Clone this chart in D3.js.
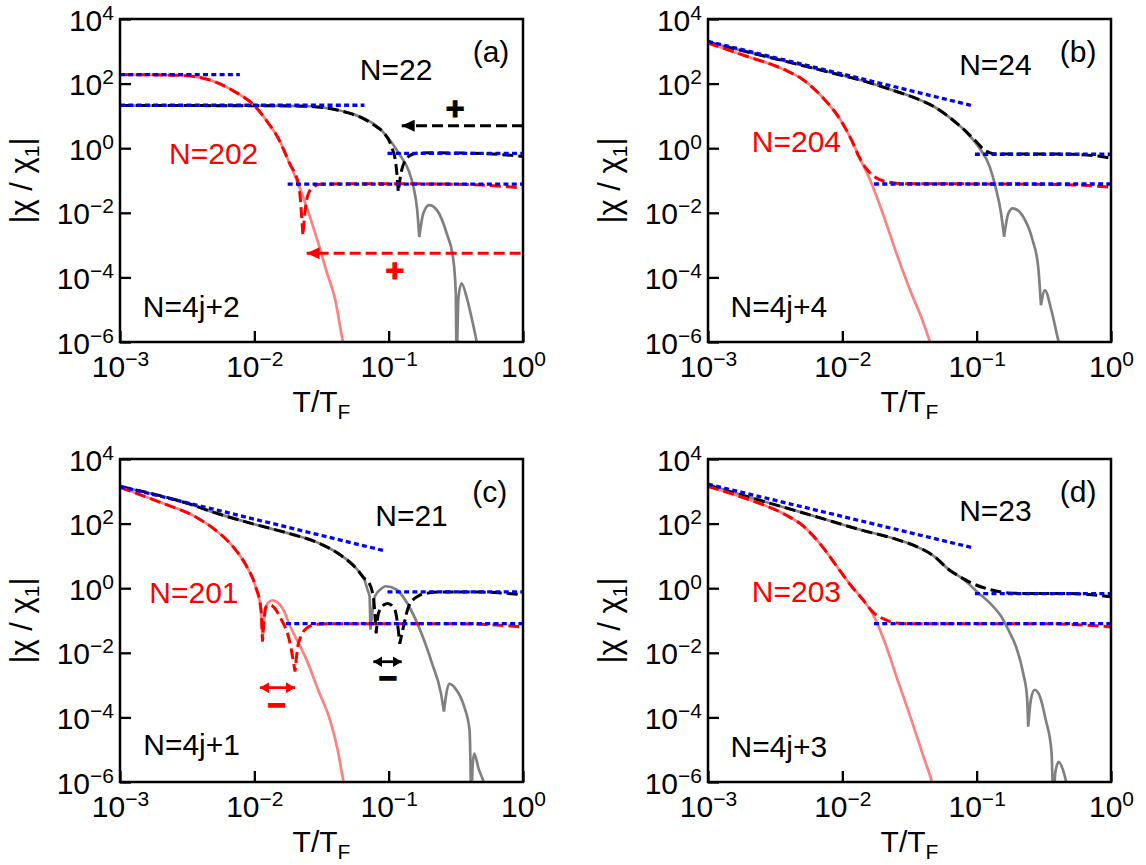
<html>
<head>
<meta charset="utf-8">
<title>chi / chi1 vs T/TF</title>
<style>
  body { margin: 0; background: #fff; }
  svg { display: block; }
  text { font-family: "Liberation Sans", Arial, Helvetica, sans-serif; }
  .frame { fill: none; stroke: #000; stroke-width: 2.5px; }
  .tick line { stroke: #000; stroke-width: 2.3px; }
  .exact { fill: none; stroke: #808080; stroke-width: 2.7px; }
  .exact.big { stroke: #ff8080; }
  .approx { fill: none; stroke: #000; stroke-width: 3px; stroke-dasharray: 11,5; }
  .approx.big { stroke: #ff0000; }
  .asym { fill: none; stroke: #0000ff; stroke-width: 3.3px; stroke-dasharray: 5,3.3; }
</style>
</head>
<body>
<div id="fig"></div>
<script src="https://d3js.org/d3.v7.min.js"></script>
<script>

// axis ticks (log scales)
var xTicks = [1e-3, 1e-2, 1e-1, 1];
var yTicks = [1e-6, 1e-4, 1e-2, 1, 1e2, 1e4];

// [T/TF, |chi/chi1|, cusp flag]
// panel (a)  N = 4j+2
var grayA  = [[0.001,20.9],[0.003,20.9],[0.01,20.7],[0.025,19.9],[0.0398,15.8],[0.0501,12.6],[0.0631,8.91],[0.0794,5.25],[0.1,2.0],[0.12,0.661],[0.141,0.2],[0.153,0.063],[0.163,0.0126],[0.169,0.00178,1],[0.181,0.00955],[0.2,0.0174],[0.228,0.0123],[0.27,0.00234],[0.303,0.000347],[0.316,3.16e-5],[0.321,1e-7,1],[0.331,2.5e-5],[0.349,6.6e-5],[0.38,2.5e-5],[0.417,5e-6],[0.452,1e-6],[0.48,2e-7]];
var blackA = [[0.001,20.9],[0.01,20.7],[0.025,19.9],[0.0398,15.8],[0.0501,12.4],[0.0631,8.7],[0.0794,4.9],[0.0912,3.1],[0.105,1.11],[0.113,0.339],[0.118,0.0447,1],[0.125,0.211],[0.14,0.546],[0.161,0.70],[0.203,0.72],[0.316,0.71],[0.5,0.68],[0.708,0.63],[1,0.55]];
var pinkA  = [[0.001,190],[0.002,186],[0.00316,174],[0.00501,117],[0.00708,57.5],[0.01,20.9],[0.0126,6.31],[0.0151,2.0],[0.0182,0.355],[0.0214,0.0708],[0.0251,0.0112],[0.0295,0.00141],[0.0347,0.000141],[0.0398,2.24e-5],[0.0457,1e-6],[0.0501,2e-7]];
var redA   = [[0.001,190],[0.002,186],[0.00316,174],[0.00501,117],[0.00708,57.5],[0.01,20.9],[0.0126,6.31],[0.0151,2.0],[0.0182,0.355],[0.0214,0.0708],[0.023,0.002,1],[0.0245,0.0251],[0.0267,0.0575],[0.0309,0.0759],[0.0501,0.0794],[0.1,0.0794],[0.251,0.0776],[0.5,0.0724],[0.708,0.066],[1,0.0589]];
var asymA  = [[[0.001,190],[0.0078,190]],[[0.001,21.4],[0.066,21.4]],[[0.098,0.69],[1,0.69]],[[0.0177,0.0776],[1,0.0776]]];

// panel (b)  N = 4j+4
var grayB  = [[0.001,1890],[0.00316,589],[0.01,178],[0.0133,132],[0.0253,57],[0.0355,34.7],[0.048,19.5],[0.0661,7.53],[0.0853,2.9],[0.103,1.12],[0.125,0.269],[0.138,0.0646],[0.152,0.00955],[0.16,0.00182,1],[0.172,0.00955],[0.186,0.0138],[0.222,0.00759],[0.261,0.00141],[0.287,0.000214],[0.301,1.38e-5,1],[0.322,3.98e-5],[0.36,9.55e-6],[0.408,1e-6],[0.447,2.5e-7]];
var blackB = [[0.001,1890],[0.00316,589],[0.01,178],[0.0133,132],[0.0253,57],[0.0355,34.7],[0.048,19.5],[0.0661,7.6],[0.0853,3.0],[0.1,1.55],[0.112,0.93],[0.126,0.72],[0.142,0.66],[0.2,0.66],[0.4,0.66],[0.6,0.63],[0.8,0.57],[1,0.49]];
var pinkB  = [[0.001,1800],[0.00196,692],[0.00371,269],[0.0051,132],[0.00703,39.8],[0.00968,7.53],[0.0117,1.8],[0.0133,0.55],[0.0161,0.104],[0.0196,0.0122],[0.0253,0.00055],[0.0327,3.16e-5],[0.0395,4.68e-6],[0.045,1e-6],[0.0501,3.2e-7]];
var redB   = [[0.001,1800],[0.00196,692],[0.00371,269],[0.0051,132],[0.00703,39.8],[0.00968,7.53],[0.0117,1.8],[0.0133,0.55],[0.015,0.24],[0.0168,0.145],[0.019,0.107],[0.022,0.089],[0.026,0.081],[0.03,0.079],[0.1,0.0785],[0.316,0.0759],[0.631,0.0708],[1,0.0617]];
var asymB  = [[[0.001,2030],[0.0938,20.5]],[[0.097,0.649],[1,0.649]],[[0.0172,0.0778],[1,0.0778]]];

// panel (c)  N = 4j+1
var grayC  = [[0.001,1413],[0.00316,427],[0.00506,219],[0.01,95.5],[0.0172,52.5],[0.0316,22.9],[0.043,11.2],[0.0583,3.8],[0.0659,1.86],[0.07,0.83],[0.0721,0.562],[0.0731,0.0525,1],[0.0791,0.562],[0.0867,0.912],[0.0951,1.15],[0.114,0.912],[0.146,0.219],[0.175,0.0407],[0.21,0.00479],[0.245,0.000562],[0.258,0.000151,1],[0.269,0.000562],[0.282,0.0011],[0.313,0.000794],[0.365,0.000214],[0.4,4.07e-5],[0.412,1e-7,1],[0.422,3.2e-6],[0.433,7.6e-6],[0.468,2.5e-6],[0.51,1e-6],[0.55,3.2e-7]];
var blackC = [[0.001,1413],[0.00316,427],[0.00506,219],[0.01,95.5],[0.0172,52.5],[0.0316,22.9],[0.043,11.2],[0.0583,3.8],[0.0659,2.0],[0.07,1.66],[0.0767,0.562],[0.0807,0.0398,1],[0.0841,0.17],[0.0923,0.309],[0.0982,0.339],[0.111,0.219],[0.121,0.0191,1],[0.129,0.0661],[0.141,0.275],[0.165,0.562],[0.198,0.716],[0.269,0.769],[0.5,0.759],[0.708,0.708],[1,0.631]];
var pinkC  = [[0.001,1318],[0.00202,447],[0.00372,155],[0.00506,66.1],[0.00686,20.4],[0.00875,4.79],[0.0102,1.15],[0.0112,0.219],[0.0115,0.0224,1],[0.0122,0.275],[0.0136,0.417],[0.0161,0.251],[0.0186,0.0631],[0.0245,0.00603],[0.0302,0.000631],[0.0366,8.3e-5],[0.0417,1e-5],[0.0462,1e-6],[0.0501,2.5e-7]];
var redC   = [[0.001,1318],[0.00202,447],[0.00372,155],[0.00506,66.1],[0.00686,20.4],[0.00875,4.79],[0.0102,1.15],[0.0112,0.219],[0.0115,0.0224,1],[0.0122,0.26],[0.0131,0.302],[0.0158,0.112],[0.0182,0.0251],[0.0201,0.00263,1],[0.0213,0.0195],[0.0245,0.0575],[0.0291,0.0759],[0.0398,0.0794],[0.316,0.0794],[0.631,0.0724],[1,0.0631]];
var asymC  = [[[0.001,1413],[0.095,14.1]],[[0.098,0.769],[1,0.769]],[[0.0172,0.0798],[1,0.0798]]];

// panel (d)  N = 4j+3
var grayD  = [[0.001,1549],[0.00371,316],[0.00631,166],[0.0133,66.1],[0.0253,32.4],[0.0348,20.4],[0.048,9.89],[0.0619,3.8],[0.08,1.86],[0.103,0.716],[0.125,0.35],[0.152,0.135],[0.172,0.0519],[0.196,0.0158],[0.222,0.00234],[0.237,0.000437],[0.242,5.13e-5,1],[0.253,0.000347],[0.27,0.000708],[0.296,0.000437],[0.327,8.32e-5],[0.36,9.55e-6],[0.372,1e-7,1],[0.385,2e-6],[0.408,4.17e-6],[0.437,2.5e-6],[0.465,1e-6],[0.501,3.2e-7]];
var blackD = [[0.001,1549],[0.00371,316],[0.00631,166],[0.0133,66.1],[0.0253,32.4],[0.0348,20.4],[0.048,9.89],[0.0619,3.8],[0.08,1.95],[0.0908,1.47],[0.125,0.912],[0.172,0.716],[0.22,0.69],[0.4,0.69],[0.6,0.66],[0.8,0.6],[1,0.537]];
var pinkD  = [[0.001,1413],[0.00196,575],[0.00371,195],[0.0051,85.1],[0.00703,20.4],[0.00908,4.79],[0.0117,1.15],[0.0142,0.447],[0.0172,0.135],[0.0208,0.02],[0.0253,0.00182],[0.0327,8.32e-5],[0.0395,7.59e-6],[0.0465,1e-6],[0.0501,3.2e-7]];
var redD   = [[0.001,1413],[0.00196,575],[0.00371,195],[0.0051,85.1],[0.00703,20.4],[0.00908,4.79],[0.0117,1.15],[0.0142,0.447],[0.0172,0.17],[0.0208,0.107],[0.0253,0.0832],[0.0316,0.0794],[0.316,0.0794],[0.631,0.0724],[1,0.0631]];
var asymD  = [[[0.001,1660],[0.0938,17.8]],[[0.097,0.682],[1,0.682]],[[0.0172,0.0798],[1,0.0798]]];

// annotations, placed in data coordinates
var labelsA = [["N=22",0.1135,129,"#000","middle"],["N=202",0.00498,0.324,"#f00","middle"],["N=4j+2",0.00148,5.9e-6,"#000","start"],["(a)",0.578,468,"#000","middle"]];
var labelsB = [["N=24",0.138,186,"#000","middle"],["N=204",0.00455,0.785,"#f00","middle"],["N=4j+4",0.00147,5.9e-6,"#000","start"],["(b)",0.569,468,"#000","middle"]];
var labelsC = [["N=21",0.148,85.1,"#000","middle"],["N=201",0.00355,0.347,"#f00","middle"],["N=4j+1",0.00149,6.9e-6,"#000","start"],["(c)",0.566,468,"#000","middle"]];
var labelsD = [["N=23",0.138,123,"#000","middle"],["N=203",0.00455,0.363,"#f00","middle"],["N=4j+3",0.00147,6.0e-6,"#000","start"],["(d)",0.569,468,"#000","middle"]];

var signsA = [["+",0.312,17.2,"#000"],["+",0.111,1.7e-4,"#f00"]];
var signsC = [["\u2212",0.099,1.62e-3,"#000"],["\u2212",0.0147,2.4e-4,"#f00"]];

// arrows: [T start, T tip, value, color, dashed, heads]
var arrowsA = [[1,0.125,4.98,"#000",true,1],[0.96,0.0245,5.6e-4,"#f00",true,1]];
var arrowsC = [[0.0769,0.125,5.3e-3,"#000",false,2],[0.011,0.0201,8.3e-4,"#f00",false,2]];

var panels = [
  {left:120, top:19,  gray:grayA, black:blackA, pink:pinkA, red:redA, asym:asymA, labels:labelsA, signs:signsA, arrows:arrowsA},
  {left:708, top:19,  gray:grayB, black:blackB, pink:pinkB, red:redB, asym:asymB, labels:labelsB, signs:[], arrows:[]},
  {left:120, top:459, gray:grayC, black:blackC, pink:pinkC, red:redC, asym:asymC, labels:labelsC, signs:signsC, arrows:arrowsC},
  {left:708, top:459, gray:grayD, black:blackD, pink:pinkD, red:redD, asym:asymD, labels:labelsD, signs:[], arrows:[]}
];

var W = 1146, H = 865, pw = 403, ph = 323;
var fs = 30, fsSmall = 21;

var svg = d3.select("#fig").append("svg")
            .attr("width", W)
            .attr("height", H);
var defs = svg.append("defs");

function marker(id, color, len, half) {
  defs.append("marker")
      .attr("id", id)
      .attr("viewBox", (-len) + " " + (-half) + " " + len + " " + (2 * half))
      .attr("markerWidth", len)
      .attr("markerHeight", 2 * half)
      .attr("markerUnits", "userSpaceOnUse")
      .attr("refX", 0).attr("refY", 0)
      .attr("orient", "auto-start-reverse")
    .append("path")
      .attr("d", "M0,0L" + (-len) + "," + (-half) + "L" + (-len) + "," + half + "Z")
      .attr("fill", color);
}
marker("headK1", "#000", 13, 6);
marker("headR1", "#f00", 13, 6);
marker("headK2", "#000", 9, 5.5);
marker("headR2", "#f00", 9, 5.5);

// split a curve at its zero crossings so the cusps stay sharp
function pieces(pts) {
  var out = [], cur = [];
  pts.forEach(function(p) {
    cur.push(p);
    if (p[2]) { out.push(cur); cur = [p]; }
  });
  if (cur.length > 1) out.push(cur);
  return out;
}

function powText(sel, v) {
  var e = Math.round(Math.log10(v));
  sel.text(null);
  sel.append("tspan").text("10");
  sel.append("tspan").attr("dy", -11).style("font-size", fsSmall + "px")
     .text(e < 0 ? "\u2212" + (-e) : String(e));
}

panels.forEach(function(p, i) {
  var x = d3.scaleLog().domain([1e-3, 1]).range([p.left, p.left + pw]);
  var y = d3.scaleLog().domain([1e-6, 1e4]).range([p.top + ph, p.top]);

  defs.append("clipPath").attr("id", "clip" + i)
    .append("rect")
      .attr("x", p.left).attr("y", p.top)
      .attr("width", pw).attr("height", ph);

  var g = svg.append("g");
  var plot = g.append("g").attr("clip-path", "url(#clip" + i + ")");

  var curve = d3.line()
                .x(function(d) { return x(d[0]); })
                .y(function(d) { return y(d[1]); })
                .curve(d3.curveMonotoneX);
  var straight = d3.line()
                .x(function(d) { return x(d[0]); })
                .y(function(d) { return y(d[1]); });

  function pathOf(pts) {
    return pieces(pts).map(function(seg, k) {
      var d = curve(seg);
      return k === 0 ? d : d.replace(/^M[^CL]*/, "");
    }).join("");
  }

  plot.append("path").attr("class", "exact").attr("d", pathOf(p.gray));
  plot.append("path").attr("class", "approx").attr("d", pathOf(p.black));
  plot.append("path").attr("class", "exact big").attr("d", pathOf(p.pink));
  plot.append("path").attr("class", "approx big").attr("d", pathOf(p.red));

  plot.selectAll("path.asym")
      .data(p.asym)
      .enter().append("path")
      .attr("class", "asym")
      .attr("d", straight);

  // arrows
  p.arrows.forEach(function(a) {
    var id = (a[3] === "#000" ? "headK" : "headR") + a[5];
    var ln = plot.append("line")
        .attr("x1", x(a[0])).attr("x2", x(a[1]))
        .attr("y1", y(a[2])).attr("y2", y(a[2]))
        .attr("stroke", a[3])
        .attr("stroke-width", a[4] ? 3 : 2.8)
        .attr("stroke-dasharray", a[4] ? "11,5" : null)
        .attr("marker-end", "url(#" + id + ")");
    if (a[5] === 2) ln.attr("marker-start", "url(#" + id + ")");
  });

  // frame
  g.append("rect").attr("class", "frame")
      .attr("x", p.left).attr("y", p.top)
      .attr("width", pw).attr("height", ph);

  // x axis
  var gX = g.append("g")
      .attr("transform", "translate(0," + (p.top + ph) + ")")
      .call(d3.axisBottom(x).tickValues(xTicks).tickSizeInner(-11).tickSizeOuter(0));
  gX.select(".domain").remove();
  gX.selectAll(".tick text")
      .attr("y", 35).attr("dy", null)
      .style("font-size", fs + "px")
      .style("font-family", '"Liberation Sans", Arial, sans-serif')
      .attr("fill", "#000")
      .each(function(d) { powText(d3.select(this), d); });

  // y axis
  var gY = g.append("g")
      .attr("transform", "translate(" + p.left + ",0)")
      .call(d3.axisLeft(y).tickValues(yTicks).tickSizeInner(-11).tickSizeOuter(0));
  gY.select(".domain").remove();
  gY.selectAll(".tick text")
      .attr("x", -6).attr("y", 11).attr("dy", null)
      .style("font-size", fs + "px")
      .style("font-family", '"Liberation Sans", Arial, sans-serif')
      .attr("fill", "#000")
      .each(function(d) { powText(d3.select(this), d); });

  // axis labels
  var xl = g.append("text")
      .attr("x", p.left + pw / 2).attr("y", p.top + ph + 70)
      .attr("text-anchor", "middle")
      .style("font-size", fs + "px");
  xl.append("tspan").text("T/T");
  xl.append("tspan").attr("dy", 7).style("font-size", fsSmall + "px").text("F");

  var yl = g.append("text")
      .attr("transform", "translate(" + (p.left - 88) + "," + (p.top + ph / 2) + ") rotate(-90)")
      .attr("text-anchor", "middle")
      .style("font-size", (fs + 1) + "px");
  yl.append("tspan").text("|\u03c7 / \u03c7");
  yl.append("tspan").attr("dy", 7).style("font-size", fsSmall + "px").text("1");
  yl.append("tspan").attr("dy", -7).text("|");

  // text labels
  g.selectAll("text.lab")
      .data(p.labels)
      .enter().append("text")
      .attr("class", "lab")
      .attr("x", function(d) { return x(d[1]); })
      .attr("y", function(d) { return y(d[2]); })
      .attr("text-anchor", function(d) { return d[4]; })
      .attr("fill", function(d) { return d[3]; })
      .style("font-size", fs + "px")
      .text(function(d) { return d[0]; });

  g.selectAll("text.sign")
      .data(p.signs)
      .enter().append("text")
      .attr("class", "sign")
      .attr("x", function(d) { return x(d[1]); })
      .attr("y", function(d) { return y(d[2]) + 11; })
      .attr("text-anchor", "middle")
      .attr("fill", function(d) { return d[3]; })
      .attr("stroke", function(d) { return d[3]; })
      .attr("stroke-width", 1.2)
      .style("font-size", "32px")
      .style("font-weight", "bold")
      .text(function(d) { return d[0]; });
});

</script>
</body>
</html>
